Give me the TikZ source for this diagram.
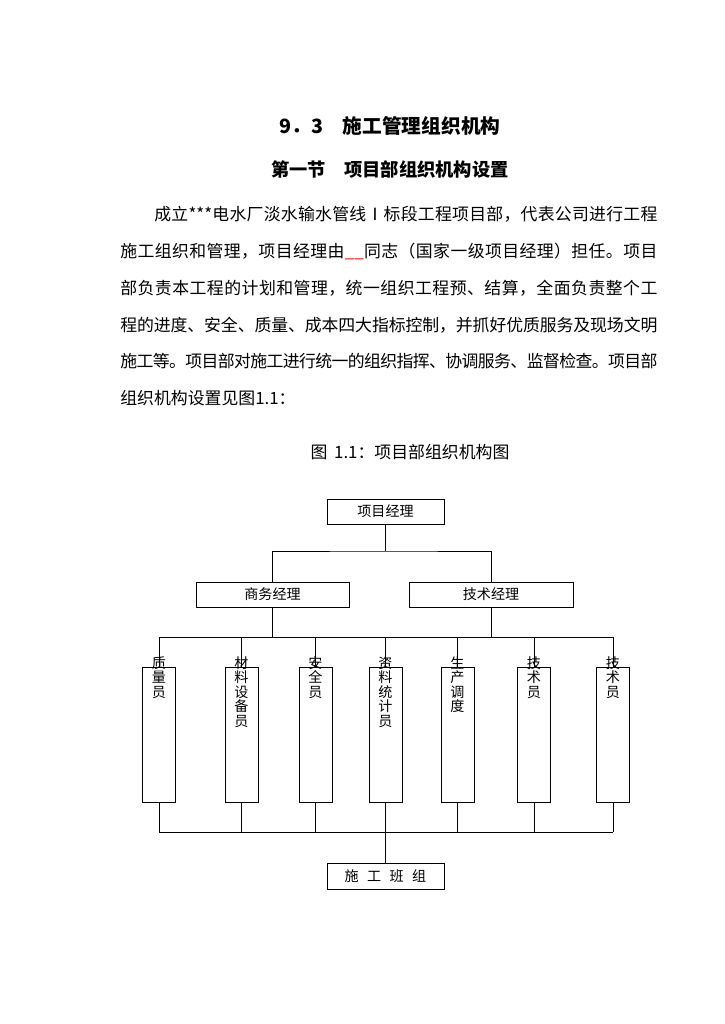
\documentclass[tikz,border=0pt]{standalone}
\usepackage{fontspec}
\newfontfamily\cjk{Noto Sans CJK SC}
\usetikzlibrary{calc}

% justified line: a stretchable gap after every character
\newcommand\cjkgap{\hskip 0pt plus 1fil minus 0.08em\relax}
\makeatletter
\newcommand\jline[2]{\makebox[#1][s]{\let\jsep\relax\@tfor\jc:=#2\do{\jsep\jc\let\jsep\cjkgap}}}
\makeatother

\begin{document}
\begin{tikzpicture}[x=0.025cm,y=-0.025cm,
every node/.style={font=\cjk,inner sep=0pt},
box/.style={draw,line width=0.6pt,minimum height=0.625cm,font=\cjk\fontsize{10}{12}\selectfont},
staff/.style={draw,line width=0.6pt,minimum width=0.825cm,minimum height=3.375cm},
lbl/.style={anchor=north,align=center,font=\cjk\fontsize{10}{10.4}\selectfont},
body/.style={anchor=west,font=\cjk\fontsize{12}{12}\selectfont},
link/.style={line width=0.6pt}]
\fill[white] (0,0) rectangle (724,1024);
\useasboundingbox (0,0) rectangle (724,1024);

% heading
\node[font=\cjk\bfseries\fontsize{14}{14}\selectfont] (title) at (390,126) {9．3\hspace{1em}施工管理组织机构};
\node[font=\cjk\bfseries\fontsize{13}{13}\selectfont] (sect) at (390,170) {第一节\hspace{1em}项目部组织机构设置};

% paragraph
\node[body] (p1) at (154,214) {\jline{12.575cm}{成立{***}电水厂淡水输水管线Ⅰ标段工程项目部，代表公司进行工程}};
\node[body] (p2) at (120,251) {\jline{13.425cm}{施工组织和管理，项目经理由{{\color{red}\_\_}}同志（国家一级项目经理）担任。项目}};
\node[body] (p3) at (120,288) {\jline{13.425cm}{部负责本工程的计划和管理，统一组织工程预、结算，全面负责整个工}};
\node[body] (p4) at (120,325) {\jline{13.425cm}{程的进度、安全、质量、成本四大指标控制，并抓好优质服务及现场文明}};
\node[body] (p5) at (120,361) {\jline{13.425cm}{施工等。项目部对施工进行统一的组织指挥、协调服务、监督检查。项目部}};
\node[body] (p6) at (120,398) {组织机构设置见图1.1：};
\node[font=\cjk\fontsize{12}{12}\selectfont] (cap) at (410,452) {图\hspace{0.4em}1.1：项目部组织机构图};

% chart
\node[box,minimum width=2.925cm] (pm) at (385.5,511.5) {项目经理};
\node[box,minimum width=3.825cm] (bm) at (272.5,594.5) {商务经理};
\node[box,minimum width=4.1cm] (tm) at (491,594.5) {技术经理};
\node[staff] (s1) at (159,734.5) {};
\node[staff] (s2) at (241.5,734.5) {};
\node[staff] (s3) at (315.5,734.5) {};
\node[staff] (s4) at (385.5,734.5) {};
\node[staff] (s5) at (457.5,734.5) {};
\node[staff] (s6) at (534,734.5) {};
\node[staff] (s7) at (613,734.5) {};
\node[box,minimum width=2.925cm,minimum height=0.65cm] (team) at (385.5,876) {施\hspace{0.6em}工\hspace{0.6em}班\hspace{0.6em}组};
\coordinate (top) at (385.5,551);
\coordinate (bus) at (385.5,637);
\coordinate (join) at (385.5,832);

\draw[link] (pm) -- (top);
\draw[link] (bm) |- (top) -| (tm);
\draw[link] (bm) -- (bm |- bus);
\draw[link] (tm) -- (tm |- bus);
\draw[link] (s1 |- bus) -- (s7 |- bus);
\draw[link] (s1 |- join) -- (s7 |- join);
\foreach \i in {1,...,7} {
  \draw[link] (s\i) -- (s\i |- bus);
  \draw[link] (s\i) -- (s\i |- join);
}
\draw[link] (join) -- (team);

\node[lbl] (l1) at (159,656) {质\\量\\员};
\node[lbl] (l2) at (241.5,656) {材\\料\\设\\备\\员};
\node[lbl] (l3) at (315.5,656) {安\\全\\员};
\node[lbl] (l4) at (385.5,656) {资\\料\\统\\计\\员};
\node[lbl] (l5) at (457.5,656) {生\\产\\调\\度};
\node[lbl] (l6) at (534,656) {技\\术\\员};
\node[lbl] (l7) at (613,656) {技\\术\\员};
\end{tikzpicture}
\end{document}
